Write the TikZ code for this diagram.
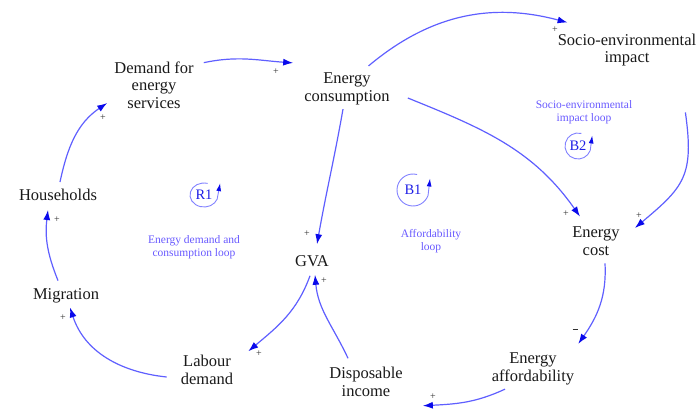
\documentclass[tikz,border=0pt]{standalone}
\usepackage{fontspec}
\setmainfont{Liberation Serif}
\usetikzlibrary{arrows.meta}
\definecolor{lineblue}{RGB}{95,95,255}
\definecolor{tipblue}{RGB}{10,10,235}
\definecolor{txt}{RGB}{25,25,25}
\definecolor{looptxt}{RGB}{105,90,255}
\definecolor{loopcirc}{RGB}{130,130,255}
\definecolor{loopnamec}{RGB}{30,30,230}
\tikzset{
  var/.style={align=center, inner sep=4pt, text=txt, font=\fontsize{16.5}{17.5}\selectfont},
  link/.style={draw=lineblue, line width=1.2pt, -{Latex[length=10pt,width=7pt,color=tipblue]}},
  pol/.style={font=\fontsize{10}{10}\selectfont, text=txt!90, inner sep=0pt},
  looplabel/.style={align=center, text=looptxt, font=\fontsize{11.5}{13.5}\selectfont},
  loopname/.style={text=loopnamec, font=\fontsize{14.5}{15}\selectfont, inner sep=0pt},
  loopc/.style={draw=loopcirc, line width=0.9pt, -{Latex[length=8pt,width=5pt,color=tipblue]}},
}
\begin{document}
\begin{tikzpicture}[x=1pt,y=1pt]
\useasboundingbox (0,0) rectangle (699,-408);
% variables
\node[var] (dem)  at (154,-85)  {Demand for\\energy\\services};
\node[var] (cons) at (347,-89)  {Energy\\consumption};
\node[var] (soc)  at (627,-50)  {Socio-environmental\\impact};
\node[var] (hh)   at (58,-195)  {Households};
\node[var] (mig)  at (66,-296)  {Migration};
\node[var] (lab)  at (207,-370) {Labour\\demand};
\node[var] (gva)  at (312,-261) {GVA};
\node[var] (disp) at (366,-382) {Disposable\\income};
\node[var] (cost) at (596,-241) {Energy\\cost};
\node[var] (aff)  at (533,-369) {Energy\\affordability};
% links
\draw[link] ([xshift=6pt]dem.27) to[out=12,in=176] ([shift={(-7pt,6pt)}]cons.north west);
\draw[link] ([yshift=3pt]cons.43) to[out=40,in=165] ([shift={(14pt,7pt)}]soc.north west);
\draw[link] ([shift={(-15pt,-42pt)}]soc.south east) to[out=-82,in=40,looseness=1.3] ([shift={(11pt,13pt)}]cost.east);
\draw[link] ([shift={(14pt,-9pt)}]cons.east) to[out=-22,in=125] ([shift={(-16pt,6pt)}]cost.north);
\draw[link] ([xshift=-4pt]cons.south) to[out=-100,in=80] ([shift={(5pt,7pt)}]gva.north);
\draw[link] ([shift={(9pt,-4pt)}]cost.south) to[out=-87,in=55] ([yshift=5pt]aff.north east);
\draw[link] ([xshift=-28pt]aff.south) to[out=205,in=3] ([shift={(16pt,-5pt)}]disp.south east);
\draw[link] ([shift={(-18pt,5pt)}]disp.north) to[out=115,in=-85] ([shift={(3pt,-4pt)}]gva.south);
\draw[link] ([shift={(-2pt,-5pt)}]gva.south) to[out=-110,in=40] ([xshift=11pt]lab.north east);
\draw[link] ([shift={(-10pt,-7pt)}]lab.west) to[out=174,in=-72] ([xshift=4pt]mig.south);
\draw[link] ([shift={(-8pt,4pt)}]mig.north) to[out=112,in=-97] ([shift={(-10pt,-5pt)}]hh.south);
\draw[link] ([shift={(2pt,3pt)}]hh.north) to[out=78,in=-146] ([shift={(-3pt,-18pt)}]dem.west);
% polarities
\node[pol] (p1)  at (276,-72)  {+};
\node[pol] (p2)  at (555,-30)  {+};
\node[pol] (p3)  at (639,-216) {+};
\node[pol] (p4)  at (566,-214) {+};
\node[pol] (p5)  at (307,-234) {+};
\node[pol] (p6)  at (575,-331) {\rule[2.5pt]{5pt}{0.8pt}};
\node[pol] (p7)  at (433,-397) {+};
\node[pol] (p8)  at (324,-281) {+};
\node[pol] (p9)  at (259,-354) {+};
\node[pol] (p10) at (63,-318)  {+};
\node[pol] (p11) at (57,-220)  {+};
\node[pol] (p12) at (103,-118) {+};
% loops
\node[loopname] (r1) at (204,-195) {R1};
\draw[loopc] (r1.center) ++(75:14 and 12) arc[start angle=75,end angle=340,x radius=14,y radius=12] -- ++(3,16);
\node[loopname] (b1) at (413,-190) {B1};
\draw[loopc] (b1.center) ++(75:16 and 16) arc[start angle=75,end angle=340,x radius=16,y radius=16] -- ++(2,17);
\node[loopname] (b2) at (578,-146) {B2};
\draw[loopc] (b2.center) ++(75:13 and 13) arc[start angle=75,end angle=340,x radius=13,y radius=13] -- ++(2,15);
\node[looplabel] (l1) at (194,-247) {Energy demand and\\consumption loop};
\node[looplabel] (l2) at (431,-241) {Affordability\\loop};
\node[looplabel] (l3) at (584,-112) {Socio-environmental\\impact loop};
\end{tikzpicture}
\end{document}
